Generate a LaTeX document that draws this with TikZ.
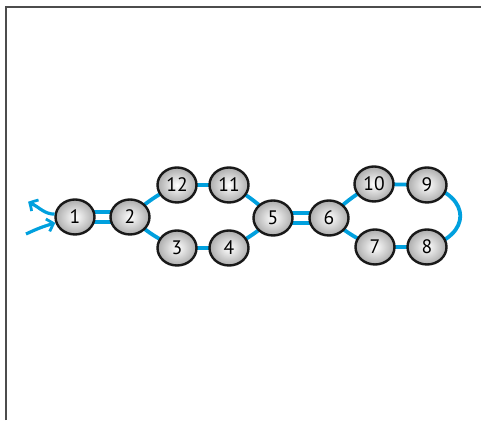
\documentclass[tikz,border=0pt]{standalone}
\usepackage{fontspec}
\setsansfont{PT Sans}
\usetikzlibrary{arrows.meta,shapes.geometric,backgrounds,bending}
\definecolor{cy}{RGB}{0,160,222}
\begin{document}
\begin{tikzpicture}[x=1pt,y=1pt,
 ball/.style={ellipse, minimum width=39pt, minimum height=35pt, inner sep=0pt,
   draw=black!90, line width=2.4pt, inner color=white, outer color=gray!65,
   font=\sffamily\fontsize{19.5}{19.5}\selectfont},
 link/.style={draw=cy, line width=3.8pt},
 dbl/.style={draw=cy, line width=3.8pt, double=white, double distance=5.5pt},
 tip/.style={-{Straight Barb[length=6pt,width=13pt,line width=2.8pt,bend]}}]
\useasboundingbox (0,0) rectangle (481,420);
\draw[line width=1.6pt, black!70] (6,0) -- (6,413) -- (481,413);

\node[ball] (n1)  at (75,203)  {1};
\node[ball] (n2)  at (130,203) {2};
\node[ball] (n12) at (177,235) {12};
\node[ball] (n11) at (229,235) {11};
\node[ball] (n3)  at (177,172) {3};
\node[ball] (n4)  at (229,172) {4};
\node[ball] (n5)  at (273,202) {5};
\node[ball] (n6)  at (329,202) {6};
\node[ball] (n10) at (374,236) {10};
\node[ball] (n9)  at (427,235) {9};
\node[ball] (n7)  at (375,173) {7};
\node[ball] (n8)  at (427,173) {8};

\coordinate (a1) at (28,218);
\coordinate (a2) at (26,186);

\begin{scope}[on background layer]
\draw[dbl] (n1.center) -- (n2.center);
\draw[dbl] (n5.center) -- (n6.center);
\draw[link] (n2.center) to[bend left=8] (n12.center);
\draw[link] (n2.center) to[bend right=8] (n3.center);
\draw[link] (n12.center) -- (n11.center);
\draw[link] (n3.center) -- (n4.center);
\draw[link] (n11.center) to[bend left=8] (n5.center);
\draw[link] (n4.center) to[bend right=8] (n5.center);
\draw[link] (n6.center) to[bend left=8] (n10.center);
\draw[link] (n6.center) to[bend right=8] (n7.center);
\draw[link] (n10.center) -- (n9.center);
\draw[link] (n7.center) -- (n8.center);
\draw[link] (n9.center) to[out=-15, in=15, looseness=1.9] (n8.center);
\end{scope}
\draw[link, line width=3.2pt, tip] (n1.172) to[out=180, in=-20] (a1);
\draw[link, line width=3.2pt, tip] (a2) to[out=25, in=195] (n1.197);
\end{tikzpicture}
\end{document}
